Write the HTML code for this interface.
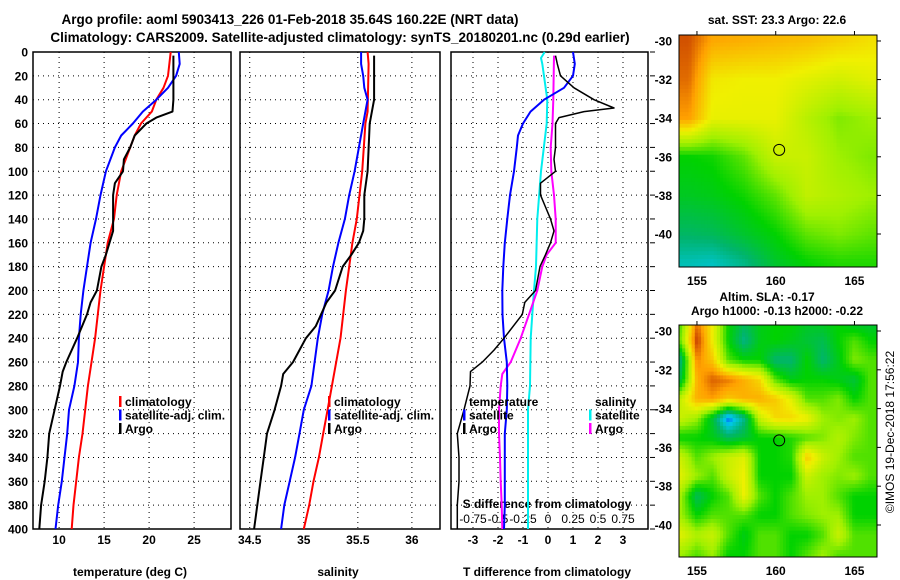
<!DOCTYPE html>
<html><head><meta charset="utf-8"><style>
body{margin:0;background:#fff}
svg{display:block;font-family:"Liberation Sans",sans-serif;font-weight:bold}
</style></head><body>
<svg id="s" width="900" height="580" viewBox="0 0 900 580">
<defs>
<clipPath id="c1"><rect x="679" y="35" width="198" height="232"/></clipPath>
<clipPath id="c2"><rect x="679" y="325" width="198" height="232"/></clipPath>
</defs>
<text x="290" y="24" font-size="13.5" text-anchor="middle">Argo profile: aoml 5903413_226 01-Feb-2018 35.64S 160.22E (NRT data)</text>
<text x="340" y="42" font-size="13.5" text-anchor="middle">Climatology: CARS2009. Satellite-adjusted climatology: synTS_20180201.nc (0.29d earlier)</text>
<text x="777" y="24" font-size="12" text-anchor="middle">sat. SST: 23.3 Argo: 22.6</text>
<text x="767" y="301" font-size="12" text-anchor="middle">Altim. SLA: -0.17</text>
<text x="777" y="315" font-size="12" text-anchor="middle">Argo h1000: -0.13 h2000: -0.22</text>
<text transform="translate(894,432) rotate(-90)" font-size="12" font-weight="normal" text-anchor="middle">©IMOS 19-Dec-2018 17:56:22</text>
<text x="130" y="576" font-size="12" text-anchor="middle">temperature (deg C)</text>
<text x="338" y="576" font-size="12" text-anchor="middle">salinity</text>
<text x="547" y="576" font-size="12" text-anchor="middle">T difference from climatology</text>
<text x="547" y="508" font-size="12" text-anchor="middle">S difference from climatology</text>
</svg>
<script>
const climT_d=[0,20,30,40,50,60,70,80,100,120,140,160,180,200,220,240,260,280,300,320,340,360,380,400];
const climT_v=[22.4,22.1,21.6,20.8,20.3,19.1,18.4,17.9,16.9,16.4,16.1,15.4,15.0,14.6,14.3,14.0,13.6,13.2,12.9,12.6,12.2,11.9,11.6,11.4];
const satT_d=[0,10,20,30,40,50,60,70,80,100,120,140,160,180,200,220,240,260,280,300,320,340,360,380,400];
const satT_v=[23.3,23.4,23.0,22.1,20.8,19.3,18.2,16.9,16.2,15.2,14.6,14.1,13.5,13.1,12.7,12.4,12.2,12.1,11.7,11.1,10.9,10.6,10.3,9.9,9.6];
const argoT_d=[3,40,50,55,60,70,80,90,100,110,120,150,160,170,180,200,210,220,240,260,268,280,300,320,340,360,380,400];
const argoT_v=[22.7,22.7,22.6,20.8,19.7,18.4,17.9,17.2,17.1,16.2,16.0,16.0,15.6,15.2,14.7,14.2,13.5,13.1,12.0,10.8,10.4,10.1,9.5,8.9,8.7,8.4,8.0,7.8];
const climS_d=[0,10,50,60,100,140,160,180,200,240,260,280,300,320,340,360,380,400];
const climS_v=[35.59,35.60,35.59,35.57,35.54,35.49,35.45,35.42,35.39,35.34,35.30,35.26,35.22,35.18,35.14,35.09,35.05,35.0];
const satS_d=[0,10,20,30,40,50,60,80,100,120,140,160,180,200,220,240,260,280,300,320,340,360,380,400];
const satS_v=[35.53,35.53,35.55,35.56,35.59,35.57,35.55,35.51,35.47,35.42,35.38,35.32,35.27,35.23,35.17,35.13,35.10,35.07,35.0,34.96,34.92,34.87,34.82,34.79];
const argoS_d=[3,40,50,60,100,120,140,150,160,170,180,200,210,230,240,260,270,280,300,320,340,360,380,400];
const argoS_v=[35.65,35.65,35.63,35.61,35.59,35.56,35.56,35.55,35.51,35.44,35.36,35.29,35.21,35.11,35.02,34.90,34.81,34.79,34.73,34.66,34.63,34.60,34.57,34.54];
const dTsat_d=[0,10,20,30,40,50,60,70,80,100,120,140,160,180,200,220,240,260,280,300,320,340,360,380,400];
const dTsat_v=[1.0,1.07,1.0,0.64,-0.16,-0.7,-1.0,-1.2,-1.25,-1.36,-1.52,-1.63,-1.73,-1.79,-1.83,-1.82,-1.76,-1.65,-1.63,-1.65,-1.73,-1.73,-1.73,-1.73,-1.76];
const dTargo_d=[3,10,20,30,40,47,50,55,60,80,90,100,110,120,130,140,150,160,170,180,200,210,220,240,250,260,268,280,300,320,340,360,380,400];
const dTargo_v=[0.3,0.37,0.5,1.04,1.84,2.64,1.44,0.44,0.3,0.3,0.24,0.3,-0.3,-0.3,-0.1,0.1,0.24,0.1,-0.1,-0.32,-0.5,-0.93,-1.03,-1.76,-2.16,-2.63,-3.1,-3.12,-3.36,-3.63,-3.56,-3.56,-3.63,-3.63];
const dSsat_d=[0,5,10,40,60,100,140,180,200,220,240,280,300,340,400];
const dSsat_v=[-0.033,-0.07,-0.057,-0.007,-0.013,-0.07,-0.107,-0.12,-0.14,-0.157,-0.173,-0.18,-0.2,-0.2,-0.2];
const dSargo_d=[3,40,60,80,100,120,140,160,170,180,200,220,240,260,270,280,300,320,340,360,380,400];
const dSargo_v=[0.06,0.053,0.045,0.027,0.033,0.06,0.077,0.077,-0.013,-0.057,-0.107,-0.19,-0.273,-0.373,-0.457,-0.473,-0.49,-0.49,-0.48,-0.473,-0.463,-0.457];
const depthTicks=[0,20,40,60,80,100,120,140,160,180,200,220,240,260,280,300,320,340,360,380,400];
const tTicks=[10,15,20,25];
const sTicks=[34.5,35,35.5,36];
const dTTicks=[-3,-2,-1,0,1,2,3];
const dSTickLabels=["-0.75","-0.5","-0.25","0","0.25","0.5","0.75"];
const dSTicks=[-0.75,-0.5,-0.25,0,0.25,0.5,0.75];

const sstLons=[154.5,156,158,160,162,164,166];
const sstLats=[-30,-32,-34,-36,-38,-40,-41.5];
const sstVals=[
[6.6,5.9,5.8,5.7,5.6,5.4,5.2],
[6.4,5.1,5.0,5.0,4.8,4.6,4.8],
[6.0,4.9,4.9,4.9,4.3,3.8,4.0],
[3.0,3.1,3.6,4.5,4.5,4.0,3.8],
[2.7,2.8,3.1,3.6,4.4,4.2,4.0],
[2.1,2.2,2.6,3.0,3.6,3.8,3.6],
[1.4,1.3,1.8,2.6,3.0,3.2,3.2]];
const slaLons=[154,155,156,157,158,159,160,161,162,163,164,165,166];
const slaLats=[-29.5,-30.5,-31.5,-32.5,-33.5,-34.5,-35.5,-36.5,-37.5,-38.5,-39.5,-40.5,-41.5];
const slaVals=[
[3.5,6.3,5,3,2.3,2.8,3,3,2.7,2.8,3,2.5,2.5],
[3.8,6.8,5,3,1.8,2.8,3,2.8,2.5,2.3,3,3.5,3],
[2,6.2,5.5,3.5,3,3,2,2,3,2,2.8,3.8,3.5],
[2.5,5.8,6.5,6.3,5.8,5.3,3.5,2.8,3,3,2.8,2.5,3.5],
[4.5,5.8,6,5.5,5.8,5.8,5.5,4.8,3.5,3.5,3.8,3,3.5],
[4.5,4,2.5,0.3,1.8,4.5,5.3,5.3,5,4,3.8,4,3.5],
[3,3,2.8,2.2,2.5,3,3,3.2,3.5,3.8,4.2,3.8,3.5],
[4.5,3.5,4,4.5,4.8,3,3,3.2,5.5,4.5,4,3.5,3.5],
[4.8,4,3.5,4.5,5,3,3,3,4.5,4,3.8,4,3.5],
[4,2.2,3,3.5,5,3.5,3,3.5,4,4,3.5,3,3],
[4,3,3.5,3.5,3.5,3,3,3.5,3.8,4,4,3,3],
[4.8,4.2,4.5,3.5,2.8,3.5,3.5,3,3,3.5,4.5,3.5,3.5],
[4,3.5,4,3,3,3.5,3.5,3,3.5,4,3.5,3.5,3.5]];
const argoLon=160.22, argoLat=-35.64;

const NS="http://www.w3.org/2000/svg";
const svg=document.getElementById('s');
function el(t,a,p){const e=document.createElementNS(NS,t);for(const k in a)e.setAttribute(k,a[k]);(p||svg).appendChild(e);return e;}
const top0=52,bot0=529;
const yD=d=>top0+d*(bot0-top0)/400;
function panel(name,x0,x1,v0,v1,xt,labels,showY){
  const xs=v=>x0+(v-v0)*(x1-x0)/(v1-v0);
  const g=el('g',{});
  
  
  depthTicks.forEach(d=>{
    const l=el('line',{x1:x0,x2:x1,y1:yD(d),y2:yD(d),stroke:'#000','stroke-width':1,'stroke-dasharray':'1,4'},g);
    
    
    if(showY){
      const t=el('text',{x:28,y:yD(d)+4.5,'font-size':12,'text-anchor':'end'},g);
      t.textContent=d;
      
      
    }
  });
  xt.forEach((v,i)=>{
    const l=el('line',{x1:xs(v),x2:xs(v),y1:top0,y2:bot0,stroke:'#000','stroke-width':1,'stroke-dasharray':'1,4'},g);
    
    
    const t=el('text',{x:xs(v),y:544,'font-size':12,'text-anchor':'middle'},g);
    t.textContent=labels[i];
    
    
  });
  const r=el('rect',{x:x0,y:top0,width:x1-x0,height:bot0-top0,fill:'none',stroke:'#000','stroke-width':1.5},g);
  
  
  return {xs,g};
}
function line(p,ds,vs,col,w,name,scale){
  const pts=ds.map((d,i)=>p.xs(vs[i]*(scale||1)).toFixed(1)+','+yD(d).toFixed(1)).join(' ');
  const l=el('polyline',{points:pts,fill:'none',stroke:col,'stroke-width':w,'stroke-linejoin':'round'},p.g);
  
  
}
function legend(x,y,items,g){
  items.forEach((it,i)=>{
    if(it[1]){const m=el('rect',{x:x,y:y+i*13.5-5,width:2.5,height:11,fill:it[1]},g);
      
      }
    const t=el('text',{x:x+6,y:y+i*13.5+5,'font-size':12},g);
    t.textContent=it[0];
    
    
  });
}
const p1=panel('temperature-panel',33,231,7.1,29.1,tTicks,tTicks.map(String),true);
line(p1,climT_d,climT_v,'#f00',2,'climatology-temperature-line');
line(p1,satT_d,satT_v,'#00f',2,'satellite-temperature-line');
line(p1,argoT_d,argoT_v,'#000',2,'argo-temperature-line');
legend(119,401,[['climatology','#f00'],['satellite-adj. clim.','#00f'],['Argo','#000']],p1.g);
const p2=panel('salinity-panel',240,440,34.41,36.26,sTicks,['34.5','35','35.5','36'],false);
line(p2,climS_d,climS_v,'#f00',2,'climatology-salinity-line');
line(p2,satS_d,satS_v,'#00f',2,'satellite-salinity-line');
line(p2,argoS_d,argoS_v,'#000',2,'argo-salinity-line');
legend(328,401,[['climatology','#f00'],['satellite-adj. clim.','#00f'],['Argo','#000']],p2.g);
const p3=panel('difference-panel',451,648,-3.88,4.0,dTTicks,dTTicks.map(String),false);
depthTicks.forEach(d=>{const l=el('line',{x1:650,x2:655,y1:yD(d),y2:yD(d),stroke:'#000'},p3.g);
  
  });
dSTicks.forEach((v,i)=>{const t=el('text',{x:p3.xs(v*4),y:523,'font-size':12,'font-weight':'normal','text-anchor':'middle'},p3.g);
  t.textContent=dSTickLabels[i];
  
  });
line(p3,dSsat_d,dSsat_v,'#0ee',2,'satellite-salinity-diff-line',4);
line(p3,dSargo_d,dSargo_v,'#f0f',2,'argo-salinity-diff-line',4);
line(p3,dTsat_d,dTsat_v,'#00f',2,'satellite-temperature-diff-line');
line(p3,dTargo_d,dTargo_v,'#000',1.5,'argo-temperature-diff-line');
legend(463,401,[['temperature',null],['satellite','#00f'],['Argo','#000']],p3.g);
legend(589,401,[['salinity',null],['satellite','#0ee'],['Argo','#f0f']],p3.g);

const cstops=[[0,[0,64,255]],[1,[0,200,230]],[2,[0,180,110]],[3,[0,210,0]],[4,[160,240,0]],[5,[240,240,0]],[6,[255,160,0]],[7,[180,30,0]]];
function cmap(v){v=Math.max(0,Math.min(7,v));const i=Math.min(6,Math.floor(v)),f=v-i;const a=cstops[i][1],b=cstops[i+1][1];
  return 'rgb('+a.map((c,k)=>Math.round(c+(b[k]-c)*f)).join(',')+')';}
function interp(lons,lats,vals,lon,lat){
  let i=0;while(i<lons.length-2&&lon>lons[i+1])i++;
  let j=0;while(j<lats.length-2&&lat<lats[j+1])j++;
  let fx=Math.max(0,Math.min(1,(lon-lons[i])/(lons[i+1]-lons[i])));
  let fy=Math.max(0,Math.min(1,(lat-lats[j])/(lats[j+1]-lats[j])));
  const a=vals[j][i],b=vals[j][i+1],c=vals[j+1][i],d=vals[j+1][i+1];
  return a*(1-fx)*(1-fy)+b*fx*(1-fy)+c*(1-fx)*fy+d*fx*fy;}
function map(name,clip,y0,y1,latTop,latBot,lons,lats,vals,step){
  const x0=679,x1=877,lonL=153.86,lonR=166.43;
  const X=l=>x0+(l-lonL)*(x1-x0)/(lonR-lonL);
  const Y=l=>y0+(latTop-l)*(y1-y0)/(latTop-latBot);
  const g=el('g',{});
  
  
  const cg=el('g',{'clip-path':'url(#'+clip+')'},g);
  for(let lo=lonL;lo<lonR;lo+=step)for(let la=latTop;la>latBot;la-=step){
    const v=interp(lons,lats,vals,lo+step/2,la-step/2);
    const r=el('rect',{x:X(lo).toFixed(1),y:Y(la).toFixed(1),width:(X(lo+step)-X(lo)+0.6).toFixed(1),height:(Y(la-step)-Y(la)+0.6).toFixed(1),fill:cmap(v)},cg);
    
    
  }
  const fr=el('rect',{x:x0,y:y0,width:x1-x0,height:y1-y0,fill:'none',stroke:'#000','stroke-width':1},g);
  
  
  [-30,-32,-34,-36,-38,-40].forEach(la=>{
    const t=el('text',{x:672,y:Y(la)+4.5,'font-size':12,'text-anchor':'end'},g);t.textContent=la;
    
    
    el('line',{x1:877,x2:881,y1:Y(la),y2:Y(la),stroke:'#000'},g);});
  [155,160,165].forEach(lo=>{
    const t=el('text',{x:X(lo),y:y1+18,'font-size':12,'text-anchor':'middle'},g);t.textContent=lo;
    
    
    el('line',{x1:X(lo),x2:X(lo),y1:y0-4,y2:y0,stroke:'#000'},g);});
  const c=el('circle',{cx:X(argoLon),cy:Y(argoLat),r:5.5,fill:'none',stroke:'#000','stroke-width':1},g);
  
  
}
map('sst-map','c1',35,267,-29.69,-41.71,sstLons,sstLats,sstVals,0.2);
map('sla-map','c2',325,557,-29.69,-41.65,slaLons,slaLats,slaVals,0.2);
</script>
</body></html>
